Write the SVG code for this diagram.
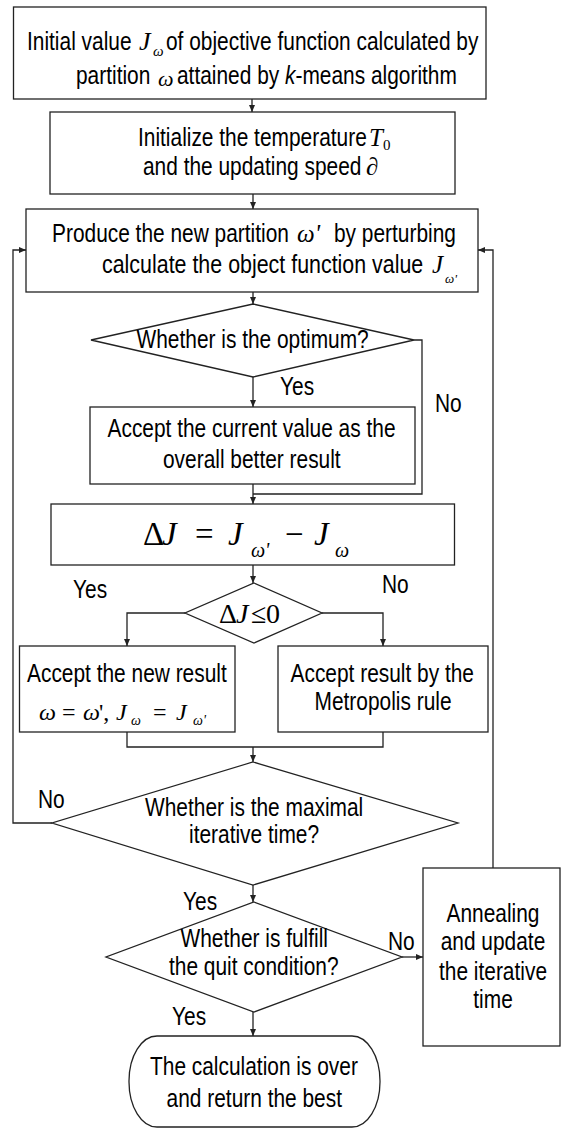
<svg xmlns="http://www.w3.org/2000/svg" width="562" height="1129" viewBox="0 0 562 1129">
  <style>
    .box { fill: #fff; stroke: #222; stroke-width: 1.3; }
    .ln { fill: none; stroke: #222; stroke-width: 1.3; }
    .arr { fill: none; stroke: #222; stroke-width: 1.3; marker-end: url(#ah); }
    /* narrow sans: regular face squeezed to 82% width */
    .t { font-family: "Liberation Sans", Arial, sans-serif; font-size: 25.5px; fill: #000; }
    .m { font-family: "Liberation Serif", "Times New Roman", serif; font-style: italic; fill: #000; }
    .up { font-style: normal; }
  </style>
  <defs>
    <marker id="ah" markerUnits="userSpaceOnUse" markerWidth="8" markerHeight="7" refX="7" refY="3" orient="auto">
      <path d="M0,0 L7,3 L0,6 z" fill="#222"/>
    </marker>
  </defs>
  <rect width="562" height="1129" fill="#fff"/>

  <!-- connectors -->
  <g id="connectors">
    <line class="arr" x1="252" y1="99" x2="252" y2="112"/>
    <line class="arr" x1="253" y1="194" x2="253" y2="209"/>
    <line class="arr" x1="253" y1="292" x2="253" y2="304"/>
    <line class="arr" x1="253" y1="377" x2="253" y2="407"/>
    <polyline class="ln" points="414,340 422,340 422,494 253,494"/>
    <line class="arr" x1="253" y1="484" x2="253" y2="504"/>
    <line class="arr" x1="253" y1="565" x2="253" y2="583"/>
    <polyline class="arr" points="185,613 127,613 127,646"/>
    <polyline class="arr" points="322,613 383,613 383,646"/>
    <polyline class="ln" points="127,732 127,747 383,747 383,732"/>
    <line class="arr" x1="253" y1="747" x2="253" y2="762"/>
    <polyline class="arr" points="52,823 13,823 13,250 26,250"/>
    <line class="arr" x1="253" y1="885" x2="253" y2="902"/>
    <line class="arr" x1="402" y1="957" x2="423" y2="957"/>
    <polyline class="arr" points="493,868 493,250 478,250"/>
    <line class="arr" x1="253" y1="1012" x2="253" y2="1036"/>
  </g>

  <!-- edge labels -->
  <g id="labels">
    <text class="t" transform="translate(280 395) scale(0.82 1)">Yes</text>
    <text class="t" transform="translate(435 412) scale(0.82 1)">No</text>
    <text class="t" transform="translate(73 598) scale(0.82 1)">Yes</text>
    <text class="t" transform="translate(382 593) scale(0.82 1)">No</text>
    <text class="t" transform="translate(38 808) scale(0.82 1)">No</text>
    <text class="t" transform="translate(183 910) scale(0.82 1)">Yes</text>
    <text class="t" transform="translate(388 950) scale(0.82 1)">No</text>
    <text class="t" transform="translate(172 1025) scale(0.82 1)">Yes</text>
  </g>

  <!-- initial value from k-means -->
  <g id="n-init">
    <rect class="box" x="13.5" y="7" width="472.5" height="92"/>
    <text class="t" transform="translate(27 50) scale(0.82 1)">Initial value</text>
    <text class="m" x="139" y="50" font-size="26">J</text>
    <text class="m" x="153" y="56" font-size="15">ω</text>
    <text class="t" transform="translate(166 50) scale(0.82 1)">of objective function calculated by</text>
    <text class="t" transform="translate(76 84) scale(0.82 1)">partition</text>
    <text class="m" x="158" y="86" font-size="22">ω</text>
    <text class="t" transform="translate(177 84) scale(0.82 1)">attained by <tspan font-style="italic">k</tspan>-means algorithm</text>
  </g>

  <!-- temperature setup -->
  <g id="n-temp">
    <rect class="box" x="50" y="112" width="405" height="82"/>
    <text class="t" transform="translate(138 146) scale(0.82 1)">Initialize the temperature</text>
    <text class="m" x="369" y="146" font-size="25">T<tspan class="up" x="383" y="150" font-size="15">0</tspan></text>
    <text class="t" transform="translate(143 175) scale(0.82 1)">and the updating speed</text>
    <text class="m" x="366" y="175" font-size="25">∂</text>
  </g>

  <!-- perturbation -->
  <g id="n-perturb">
    <rect class="box" x="26" y="209" width="452" height="83"/>
    <text class="t" transform="translate(52 242) scale(0.82 1)">Produce the new partition</text>
    <text class="m" x="297" y="242" font-size="25">ω'</text>
    <text class="t" transform="translate(334 242) scale(0.82 1)">by perturbing</text>
    <text class="t" transform="translate(102 273) scale(0.84 1)">calculate the object function value</text>
    <text class="m" x="432" y="273" font-size="25">J<tspan x="445" y="283" font-size="13">ω'</tspan></text>
  </g>

  <!-- optimum check -->
  <g id="n-optimum">
    <polygon class="box" points="253,304 414,340 253,377 91,340"/>
    <text class="t" transform="translate(136.5 348) scale(0.82 1)">Whether is the optimum?</text>
  </g>

  <g id="n-better">
    <rect class="box" x="90" y="407" width="325" height="77"/>
    <text class="t" transform="translate(107.5 437) scale(0.82 1)">Accept the current value as the</text>
    <text class="t" transform="translate(163 468) scale(0.82 1)">overall better result</text>
  </g>

  <!-- energy difference -->
  <g id="n-delta">
    <rect class="box" x="51" y="504" width="403.5" height="61"/>
    <text class="m" y="545" font-size="33"><tspan class="up" x="143">Δ</tspan><tspan x="162">J</tspan><tspan class="up" x="195">=</tspan><tspan x="228">J</tspan><tspan x="251" y="557" font-size="20">ω'</tspan><tspan class="up" x="285" y="545">−</tspan><tspan x="314">J</tspan><tspan x="335" y="557" font-size="20">ω</tspan></text>
  </g>

  <g id="n-sign">
    <polygon class="box" points="254,583 322,613 254,643 185,613"/>
    <text class="m" y="623" font-size="28"><tspan class="up" x="219">Δ</tspan><tspan x="236">J</tspan><tspan class="up" x="251">≤</tspan><tspan class="up" x="266">0</tspan></text>
  </g>

  <g id="n-accept">
    <rect class="box" x="19.5" y="646" width="215.5" height="86"/>
    <text class="t" transform="translate(27 682) scale(0.82 1)">Accept the new result</text>
    <text class="m" y="720" font-size="24"><tspan x="39">ω</tspan><tspan class="up" x="62">=</tspan><tspan x="83">ω</tspan><tspan class="up" x="99">',</tspan><tspan x="116">J</tspan><tspan x="131" y="725" font-size="14">ω</tspan><tspan class="up" x="153" y="720">=</tspan><tspan x="176">J</tspan><tspan x="193" y="725" font-size="14">ω'</tspan></text>
  </g>

  <g id="n-metropolis">
    <rect class="box" x="278" y="646" width="210" height="86"/>
    <text class="t" transform="translate(290.5 682) scale(0.82 1)">Accept result by the</text>
    <text class="t" transform="translate(314.5 710) scale(0.82 1)">Metropolis rule</text>
  </g>

  <g id="n-maxiter">
    <polygon class="box" points="253,762 458,823 253,885 52,823"/>
    <text class="t" transform="translate(145 816) scale(0.82 1)">Whether is the maximal</text>
    <text class="t" transform="translate(189 843) scale(0.82 1)">iterative time?</text>
  </g>

  <g id="n-quit">
    <polygon class="box" points="254,902 402,957 254,1012 106,957"/>
    <text class="t" transform="translate(180.5 947) scale(0.82 1)">Whether is fulfill</text>
    <text class="t" transform="translate(169 975) scale(0.82 1)">the quit condition?</text>
  </g>

  <g id="n-anneal">
    <rect class="box" x="423" y="868" width="137" height="178"/>
    <text class="t" transform="translate(446.5 922) scale(0.82 1)">Annealing</text>
    <text class="t" transform="translate(440.7 950) scale(0.82 1)">and update</text>
    <text class="t" transform="translate(439 980) scale(0.82 1)">the iterative</text>
    <text class="t" transform="translate(473.3 1008) scale(0.82 1)">time</text>
  </g>

  <g id="n-end">
    <rect class="box" x="129" y="1036" width="251" height="91" rx="28" ry="45"/>
    <text class="t" transform="translate(150 1075) scale(0.82 1)">The calculation is over</text>
    <text class="t" transform="translate(166.6 1107) scale(0.82 1)">and return the best</text>
  </g>
</svg>
